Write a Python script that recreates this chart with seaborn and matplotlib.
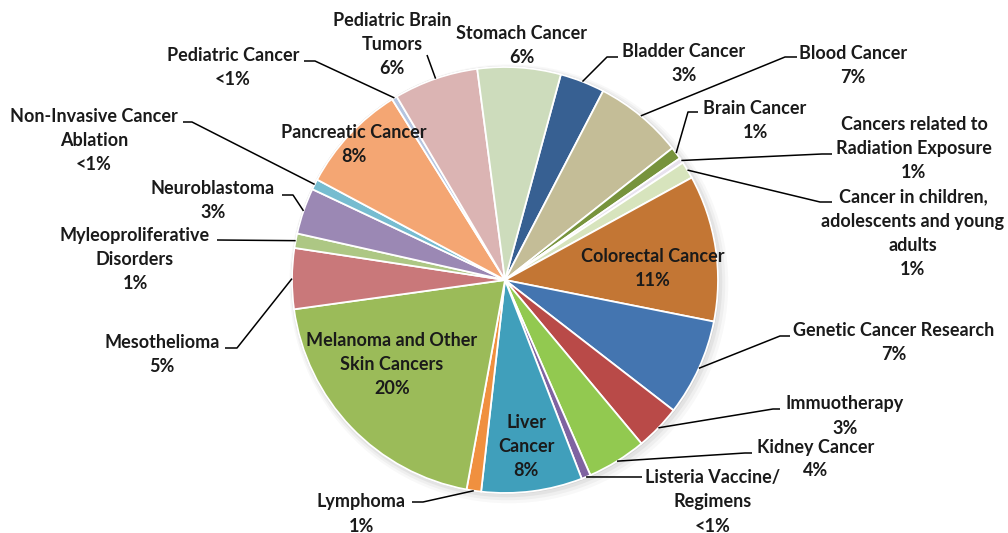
import numpy as np
import matplotlib
matplotlib.use("Agg")
import matplotlib.pyplot as plt
import seaborn as sns
from matplotlib.patches import Circle

sns.set_theme(style="white")
plt.rcParams['font.family'] = ['Lato', 'DejaVu Sans']

# === Data (clockwise) ===
categories = [
    "Bladder Cancer", "Blood Cancer", "Brain Cancer",
    "Cancers related to\nRadiation Exposure",
    "Cancer in children,\nadolescents and young\nadults",
    "Colorectal Cancer", "Genetic Cancer Research", "Immuotherapy",
    "Kidney Cancer", "Listeria Vaccine/\nRegimens", "Liver\nCancer",
    "Lymphoma", "Melanoma and Other\nSkin Cancers", "Mesothelioma",
    "Myleoproliferative\nDisorders", "Neuroblastoma",
    "Non-Invasive Cancer\nAblation", "Pancreatic Cancer",
    "Pediatric Cancer", "Pediatric Brain\nTumors", "Stomach Cancer",
]
shares = [3.4, 6.75, 0.94, 0.4, 1.3, 11.1, 7.35, 3.45, 4.5, 0.7, 7.65,
          1.1, 19.9, 4.6, 1.1, 3.5, 0.8, 8.3, 0.4, 6.4, 6.3]
pct_labels = ["3%", "7%", "1%", "1%", "1%", "11%", "7%", "3%", "4%", "<1%", "8%",
              "1%", "20%", "5%", "1%", "3%", "<1%", "8%", "<1%", "6%", "6%"]
colors = ["#376092", "#C4BD97", "#77933C", "#E8E2EE", "#D7E4BD", "#C37634",
          "#4475B0", "#B94A48", "#92C950", "#7F63A1", "#409FBB", "#F0903F",
          "#9BBB59", "#C9787A", "#ADC784", "#9B88B4", "#76BCD0", "#F4A673",
          "#B5C5E0", "#DBB4B3", "#CDDCBC"]

# === Layout in pixels: text centre, elbow of leader line, end of leader line ===
CX, CY, R = 505, 280, 213
label_layout = {
    "Bladder Cancer": ((684, 63), (607, 57), (618, 57)),
    "Blood Cancer": ((853, 65), (785, 57), (797, 57)),
    "Brain Cancer": ((755, 120), (688, 112), (698, 112)),
    "Cancers related to\nRadiation Exposure": ((914, 148), (822, 154), (832, 154)),
    "Cancer in children,\nadolescents and young\nadults": ((913, 233), (820, 202), (832, 202)),
    "Colorectal Cancer": ((653, 268), None, None),
    "Genetic Cancer Research": ((894, 343), (780, 336), (790, 336)),
    "Immuotherapy": ((845, 416), (773, 409), (780, 409)),
    "Kidney Cancer": ((816, 459), (745, 453), (752, 453)),
    "Listeria Vaccine/\nRegimens": ((713, 502), (636, 477), (642, 477)),
    "Liver\nCancer": ((526, 446), None, None),
    "Lymphoma": ((361, 514), (423, 502), (412, 502)),
    "Melanoma and Other\nSkin Cancers": ((392, 364), None, None),
    "Mesothelioma": ((162, 354), (237, 348), (225, 348)),
    "Myleoproliferative\nDisorders": ((135, 259), (217, 240), (217, 240)),
    "Neuroblastoma": ((213, 201), (293, 195), (282, 195)),
    "Non-Invasive Cancer\nAblation": ((94, 140), (192, 122), (183, 122)),
    "Pancreatic Cancer": ((354, 145), None, None),
    "Pediatric Cancer": ((233, 67), (315, 61), (304, 61)),
    "Pediatric Brain\nTumors": ((392, 44), (427, 55), (427, 55)),
    "Stomach Cancer": ((522, 45), None, None),
}


def px(p):
    return ((p[0] - CX) / R, (CY - p[1]) / R)


fig = plt.figure(figsize=(10.08, 5.33), dpi=100)
ax = fig.add_axes([0, 0, 1, 1])

# soft shadow behind the pie
for i, a in enumerate([0.05, 0.07, 0.10, 0.14]):
    off = 0.018 - i * 0.004
    ax.add_patch(Circle((off, -off), 1.0 + 0.01 * (3 - i), color="#7f7f7f",
                        alpha=a, lw=0, zorder=0))
ax.add_patch(Circle((0, 0), 1.004, color="#d0d0d0", lw=0, zorder=0.5))

wedges, _ = ax.pie(shares, colors=colors, startangle=74.8, counterclock=False,
                   radius=1.0, center=(0, 0),
                   wedgeprops=dict(edgecolor="white", linewidth=1.3))
for w in wedges:
    w.set_zorder(1)

for w, name, pct in zip(wedges, categories, pct_labels):
    text_xy, elbow, end = label_layout[name]
    tx, ty = px(text_xy)
    ax.text(tx, ty, name + "\n" + pct, ha="center", va="center",
            fontsize=13, fontweight="bold", color="#1a1a1a",
            linespacing=1.5, zorder=3)
    if elbow is not None:
        mid = np.deg2rad((w.theta1 + w.theta2) / 2)
        sx, sy = np.cos(mid), np.sin(mid)
        ex, ey = px(elbow)
        fx, fy = px(end)
        ax.plot([sx, ex, fx], [sy, ey, fy], color="black", lw=1.1, zorder=2,
                solid_capstyle="butt")

ax.set_xlim(-CX / R, (1008 - CX) / R)
ax.set_ylim(-(533 - CY) / R, CY / R)
ax.set_aspect("equal")
ax.axis("off")

fig.savefig("out.png", dpi=100, facecolor="white")
